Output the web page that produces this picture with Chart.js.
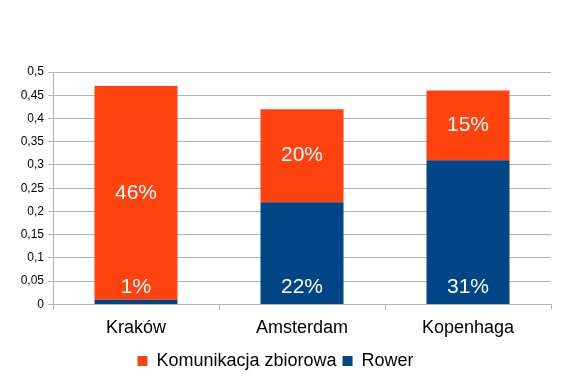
<!DOCTYPE html>
<html><head><meta charset="utf-8">
<script src="https://cdn.jsdelivr.net/npm/chart.js@4/dist/chart.umd.min.js"></script>
<style>html,body{margin:0;padding:0;background:#fff}#w{width:577px;height:381px}</style>
</head><body><div id="w"><canvas id="c"></canvas></div>
<script>
const categories = ['Kraków', 'Amsterdam', 'Kopenhaga'];
const rower = [0.01, 0.22, 0.31];
const komunikacja = [0.46, 0.20, 0.15];
const rowerLabels = ['1%', '22%', '31%'];
const komunikacjaLabels = ['46%', '20%', '15%'];
const yTickStep = 0.05;
const yMax = 0.5;

const ORANGE = '#ff420e', BLUE = '#004586', GRID = '#b3b3b3';
Chart.defaults.font.family = '"Liberation Sans", Arial, sans-serif';
Chart.defaults.color = '#000';

const labelPlugin = {
  id: 'barLabels',
  afterDatasetsDraw(chart) {
    const ctx = chart.ctx;
    ctx.save();
    ctx.fillStyle = '#fff';
    ctx.font = '21px "Liberation Sans", Arial, sans-serif';
    ctx.textAlign = 'center';
    ctx.textBaseline = 'middle';
    chart.data.datasets.forEach((ds, di) => {
      const meta = chart.getDatasetMeta(di);
      meta.data.forEach((bar, i) => {
        const txt = ds.labelsText[i];
        let y;
        if (ds.labelPos === 'base') {
          y = bar.base - 17;
        } else {
          y = (bar.y + bar.base) / 2;
        }
        ctx.fillText(txt, bar.x, y);
      });
    });
    ctx.restore();
  }
};

new Chart(document.getElementById('c'), {
  type: 'bar',
  data: {
    labels: categories,
    datasets: [
      { label: 'Rower', data: rower, backgroundColor: BLUE, labelsText: rowerLabels, labelPos: 'base' },
      { label: 'Komunikacja zbiorowa', data: komunikacja, backgroundColor: ORANGE, labelsText: komunikacjaLabels, labelPos: 'center' }
    ]
  },
  options: {
    responsive: true,
    maintainAspectRatio: false,
    animation: false,
    layout: { padding: { top: 72, right: 26, left: 0, bottom: 1 } },
    datasets: { bar: { barPercentage: 0.5, categoryPercentage: 1 } },
    plugins: {
      tooltip: { enabled: false },
      legend: {
        position: 'bottom',
        reverse: true,
        labels: {
          boxWidth: 10, boxHeight: 10, padding: 6,
          font: { size: 18 }, color: '#000'
        }
      }
    },
    scales: {
      x: {
        stacked: true,
        afterFit: (s) => { s.height -= 1; },
        grid: {
          offset: true,
          color: (c) => (c.index === 3 ? GRID : 'rgba(0,0,0,0)'),
          tickColor: GRID,
          tickLength: 5,
          lineWidth: 1
        },
        border: { color: GRID },
        ticks: { font: { size: 18 }, color: '#000', padding: 8 }
      },
      y: {
        stacked: true,
        min: 0, max: yMax,
        afterFit: (s) => { s.width = 53; },
        grid: { color: GRID, tickColor: GRID, tickLength: 5 },
        border: { color: GRID },
        ticks: {
          stepSize: yTickStep,
          font: { size: 12 }, color: '#000', padding: 4,
          callback: (v) => String(Math.round(v * 100) / 100).replace('.', ',')
        }
      }
    }
  },
  plugins: [labelPlugin]
});
</script></body></html>
